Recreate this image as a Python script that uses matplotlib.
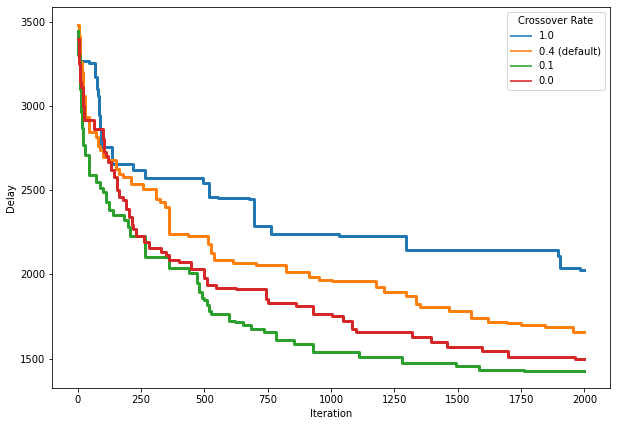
import matplotlib
matplotlib.use("Agg")
import matplotlib.pyplot as plt

labels = ["1.0", "0.4 (default)", "0.1", "0.0"]
colors = ["#1f77b4", "#ff7f0e", "#2ca02c", "#d62728"]

it_10 = [0, 10, 45, 70, 78, 82, 85, 88, 92, 134, 217, 266, 495, 520, 555, 675,
         697, 762, 1031, 1294, 1895, 1905, 1983, 2000]
delay_10 = [3390, 3268, 3255, 3170, 3100, 3061, 2943, 2864, 2755, 2657, 2621,
            2574, 2540, 2460, 2455, 2445, 2287, 2238, 2228, 2147, 2111, 2036,
            2028, 2028]

it_04 = [0, 4, 9, 17, 22, 30, 46, 72, 79, 88, 100, 118, 151, 165, 178, 211, 258,
         309, 325, 345, 362, 434, 516, 525, 540, 612, 703, 824, 911, 953, 1005,
         1176, 1209, 1297, 1337, 1350, 1465, 1553, 1619, 1694, 1749, 1845, 1953,
         2000]
delay_04 = [3482, 3416, 3258, 3199, 3061, 2933, 2844, 2814, 2760, 2736, 2696,
            2676, 2627, 2598, 2578, 2538, 2505, 2450, 2430, 2400, 2242, 2226,
            2183, 2124, 2084, 2068, 2058, 2016, 1983, 1969, 1963, 1927, 1893,
            1874, 1825, 1805, 1781, 1741, 1720, 1712, 1700, 1686, 1658, 1658]

it_01 = [0, 3, 8, 12, 18, 22, 30, 46, 72, 88, 100, 110, 122, 140, 184, 197, 207,
         264, 362, 441, 472, 478, 491, 500, 510, 520, 528, 598, 620, 651, 684,
         737, 782, 854, 930, 1110, 1281, 1491, 1583, 1760, 2000]
delay_01 = [3442, 3300, 3100, 2962, 2870, 2765, 2706, 2590, 2550, 2510, 2490,
            2430, 2380, 2350, 2321, 2282, 2228, 2104, 2039, 2006, 1946, 1893,
            1858, 1848, 1821, 1785, 1762, 1726, 1716, 1701, 1676, 1656, 1611,
            1587, 1537, 1508, 1472, 1455, 1435, 1427, 1427]

it_00 = [0, 7, 9, 14, 20, 26, 66, 99, 104, 112, 120, 132, 145, 155, 165, 178,
         191, 204, 214, 220, 231, 263, 283, 329, 347, 362, 400, 447, 500, 510,
         546, 625, 743, 750, 861, 929, 1005, 1046, 1084, 1100, 1320, 1396,
         1458, 1596, 1698, 1963, 2000]
delay_00 = [3395, 3250, 3140, 3110, 3000, 2913, 2864, 2805, 2726, 2700, 2666,
            2617, 2578, 2499, 2459, 2439, 2390, 2341, 2292, 2270, 2226, 2193,
            2154, 2134, 2114, 2084, 2074, 2031, 1976, 1936, 1917, 1912, 1854,
            1832, 1810, 1765, 1751, 1726, 1676, 1656, 1626, 1601, 1567, 1543,
            1512, 1498, 1498]

runs = [(it_10, delay_10), (it_04, delay_04), (it_01, delay_01), (it_00, delay_00)]

plt.rcParams['font.size'] = 10
fig = plt.figure(figsize=(619 / 72, 425 / 72), dpi=72)
ax = fig.add_axes([0.0845, 0.0864, 0.9007, 0.8965])

for (its, vals), lab, col in zip(runs, labels, colors):
    ax.step(its, vals, where='post', color=col, lw=3, label=lab)

ax.set_xlabel("Iteration")
ax.set_ylabel("Delay")
ax.set_xticks([0, 250, 500, 750, 1000, 1250, 1500, 1750, 2000])
ax.set_yticks([1500, 2000, 2500, 3000, 3500])

leg = ax.legend(title="Crossover Rate", loc='upper right')
for h in leg.legend_handles:
    h.set_linewidth(2)
    h.set_alpha(0.8)

fig.savefig("out.png", dpi=72)
